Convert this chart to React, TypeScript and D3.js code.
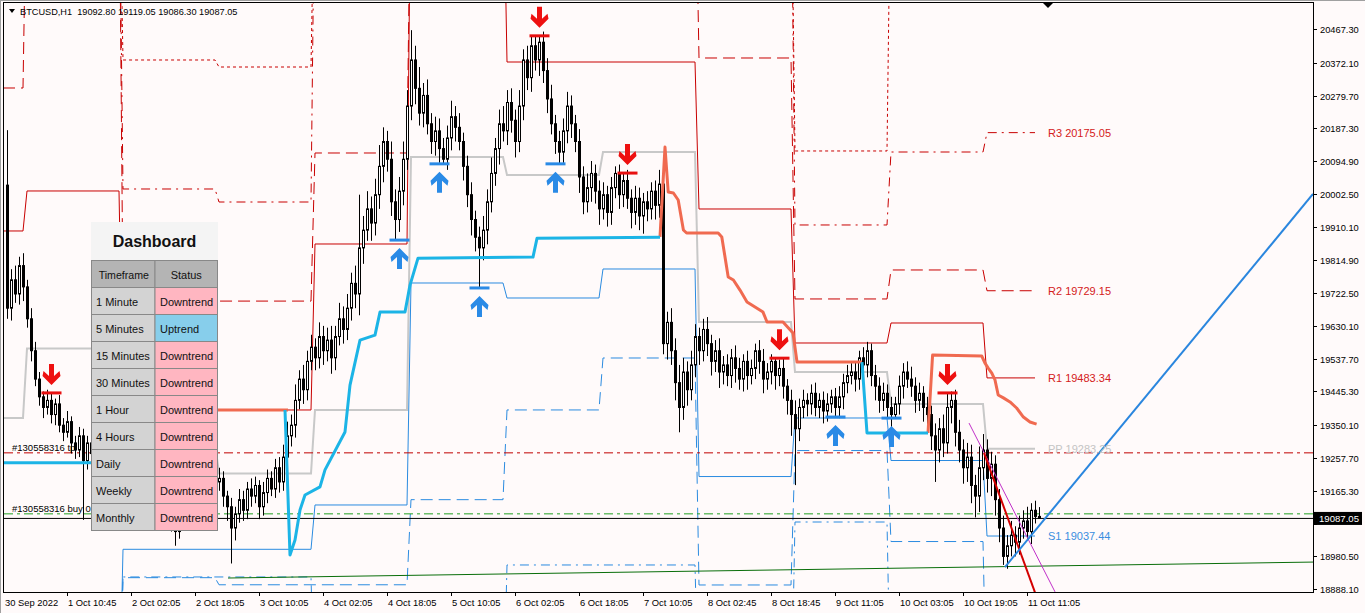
import React from "react";
import * as d3 from "d3";

// ---------------- DATA ----------------
const symbolHeader = "BTCUSD,H1  19092.80 19119.05 19086.30 19087.05";
const firstOpen = 20027;
const closes = [
  19680, 19760, 19720, 19800, 19740, 19650, 19560, 19480, 19430, 19400,
  19420, 19380, 19410, 19350, 19330, 19360, 19300, 19280, 19320, 19250,
  19300, 19270, 19240, 19280, 19250, 19220, 19260, 19230, 19190, 19210,
  19250, 19220, 19180, 19200, 19160, 19190, 19150, 19170, 19130, 19160,
  19120, 19080, 19050, 19100, 19140, 19110, 19150, 19180, 19140, 19170,
  19200, 19160, 19190, 19200, 19150, 19120, 19060, 19100, 19140, 19110,
  19170, 19150, 19180, 19120, 19160, 19200, 19170, 19230, 19190, 19260,
  19320, 19350, 19420, 19480, 19450, 19530, 19570, 19540, 19600, 19560,
  19590, 19540, 19600, 19650, 19620, 19680, 19750, 19720, 19850, 19900,
  19960, 19920, 20000, 20080, 20150, 20100, 19980, 19930, 20010, 20100,
  20250, 20380, 20300, 20230, 20280, 20200, 20150, 20180, 20130, 20100,
  20160, 20220, 20190, 20150, 20080, 20000, 19930, 19880, 19850, 19900,
  19980, 20060, 20130, 20200, 20180, 20260, 20210, 20150, 20250, 20380,
  20330, 20420, 20380, 20430, 20350, 20270, 20200, 20150, 20120, 20180,
  20250, 20200, 20150, 20050, 19980, 20020, 20060, 20010, 19960, 20000,
  19950, 20020, 20060, 20000, 20040, 19990, 19950, 19990, 19940, 19980,
  19960, 20010, 19970, 20030, 19580, 19640, 19560, 19470, 19400, 19500,
  19450, 19520, 19600, 19560, 19620, 19580, 19530, 19560, 19500, 19520,
  19490, 19540, 19510, 19480, 19530, 19490, 19510, 19560, 19530, 19480,
  19500, 19530, 19490, 19510, 19460, 19420, 19380, 19340, 19400, 19420,
  19410, 19440, 19400, 19420, 19390, 19410, 19430, 19400, 19430, 19470,
  19490, 19500, 19480, 19540, 19520, 19560, 19490, 19460, 19420, 19440,
  19400, 19380, 19410, 19460, 19500, 19480, 19460, 19420, 19440, 19400,
  19380, 19320, 19280, 19340, 19300, 19400, 19420, 19330, 19280, 19230,
  19260, 19180, 19150, 19230, 19280, 19200, 19240, 19140, 19060, 18980,
  19010, 19040, 19020, 19060, 19080, 19050, 19110, 19092.8, 19087.05,
];
const wickHi = [
  155, 30, 40, 25, 35, 20, 30, 25, 20, 15,
  30, 20, 15, 25, 20, 30, 15, 20, 25, 20,
  20, 25, 15, 20, 25, 15, 20, 25, 15, 20,
  15, 20, 25, 15, 20, 25, 15, 20, 25, 15,
  20, 15, 25, 20, 15, 25, 20, 15, 25, 20,
  15, 25, 20, 30, 20, 15, 25, 20, 30, 25,
  20, 30, 25, 15, 30, 25, 20, 25, 30, 35,
  40, 30, 45, 25, 40, 30, 35, 25, 40, 30,
  35, 40, 30, 45, 35, 40, 30, 50, 150, 40,
  50, 35, 45, 60, 40, 30, 50, 35, 40, 50,
  45, 84, 40, 60, 35, 45, 30, 40, 35, 30,
  35, 45, 30, 40, 25, 30, 35, 25, 30, 40,
  35, 45, 30, 40, 50, 35, 40, 30, 45, 30,
  40, 25, 28, 15, 30, 35, 40, 25, 30, 35,
  40, 30, 25, 35, 30, 40, 35, 25, 30, 35,
  25, 30, 20, 25, 21, 30, 25, 35, 30, 25,
  30, 25, 30, 40, 50, 30, 40, 35, 50, 40,
  30, 40, 35, 25, 30, 35, 25, 30, 35, 25,
  30, 25, 35, 30, 20, 30, 25, 20, 30, 35,
  25, 20, 9, 25, 30, 20, 30, 40, 25, 30,
  20, 25, 30, 20, 25, 30, 20, 25, 30, 25,
  30, 25, 30, 20, 30, 25, 20, 30, 25, 30,
  25, 30, 20, 30, 25, 30, 35, 25, 30, 20,
  30, 25, 35, 30, 40, 41, 25, 30, 35, 30,
  40, 35, 30, 60, 45, 30, 35, 25, 30, 35,
  30, 40, 25, 35, 30, 40, 20, 27, 26.25,
];
const wickLo = [
  30, 35, 25, 30, 40, 25, 30, 20, 25, 30,
  20, 25, 30, 20, 25, 15, 30, 25, 20, 167,
  25, 20, 30, 25, 20, 30, 25, 20, 30, 25,
  20, 25, 30, 20, 25, 30, 20, 25, 30, 20,
  25, 30, 40, 20, 25, 30, 20, 25, 30, 20,
  25, 30, 20, 25, 30, 40, 100, 35, 25, 30,
  25, 30, 20, 35, 25, 30, 20, 25, 30, 25,
  40, 30, 35, 25, 40, 30, 25, 35, 30, 40,
  30, 45, 35, 25, 40, 30, 35, 40, 60, 45,
  30, 50, 35, 40, 45, 35, 40, 58, 35, 40,
  30, 40, 45, 35, 40, 30, 35, 40, 40, 13,
  30, 35, 40, 25, 40, 35, 45, 40, 113, 35,
  40, 30, 35, 45, 30, 40, 35, 45, 30, 40,
  35, 40, 30, 45, 35, 40, 30, 35, 33, 30,
  35, 40, 30, 45, 35, 30, 40, 35, 45, 30,
  40, 35, 30, 40, 35, 30, 45, 35, 40, 50,
  35, 30, 40, 35, 30, 45, 40, 50, 70, 35,
  45, 30, 35, 40, 30, 35, 40, 30, 45, 35,
  30, 35, 40, 30, 35, 40, 25, 30, 35, 40,
  30, 35, 40, 30, 35, 40, 60, 159, 35, 30,
  35, 30, 25, 30, 35, 30, 25, 27, 30, 35,
  30, 25, 35, 30, 25, 35, 30, 40, 35, 30,
  30, 35, 10, 30, 35, 25, 30, 35, 30, 40,
  35, 40, 90, 35, 40, 30, 45, 40, 35, 45,
  40, 50, 60, 45, 35, 40, 50, 45, 40, 24,
  35, 30, 40, 35, 30, 25, 35, 20, 0.75,
];

const priceTicks = [20467.3, 20372.1, 20279.7, 20187.3, 20094.9, 20002.5, 19910.1, 19814.9, 19722.5,
  19630.1, 19537.7, 19445.3, 19350.1, 19257.7, 19165.3, 19072.5, 18980.5, 18888.1];
const timeLabels = ["30 Sep 2022", "1 Oct 10:45", "2 Oct 02:05", "2 Oct 18:05", "3 Oct 10:05", "4 Oct 02:05",
  "4 Oct 18:05", "5 Oct 10:05", "6 Oct 02:05", "6 Oct 18:05", "7 Oct 10:05", "8 Oct 02:45", "8 Oct 18:45",
  "9 Oct 11:05", "10 Oct 03:05", "10 Oct 19:05", "11 Oct 11:05"];

// daily pivot levels (12 sessions); null = not shown, 21000 / 18500 = off chart
const pivR4 = [null, 21000, 20379.9, 20360.1, 21000, 21000, 21000, 21000, 21000, 20123.3, 21000, 21000];
const pivR3 = [21000, 21000, 20016.1, 19979.4, 21000, 21000, 21000, 21000, 21000, 19914.6, 20120.4, 20175.05];
const pivR2 = [20300.9, 21000, 19700, 19700, 20117.6, 21000, 21000, 21000, 20385.5, 19706, 19787.7, 19729.15];
const pivR1 = [19897.7, 20010.5, 19392.9, 19392.9, 19861, 21000, 20374.2, 20374.2, 19959.7, 19581.8, 19638.2, 19483.34];
const pivPP = [19370.3, 19566.2, 19300, 19213.7, 19392.9, 20106.3, 20055.6, 20120.4, 19641, 19500, 19409.8, 19283.25];
const pivS1 = [18500, 18500, 19000, 19000, 19125, 19751, 19708.7, 19790.5, 19205.2, 19370.3, 19250.4, 19037.44];
const pivS2 = [18500, 18500, 18920, 18900, 18900, 19140, 19393, 19539.5, 18899.4, 19278.5, 19021.9, 18500];
const pivS3 = [18500, 18500, 18922, 18922, 18500, 18500, 18955.8, 18955.8, 18500, 19077, 18500, 18500];
const pivotLabels = [
  { name: "R3", value: 20175.05 },
  { name: "R2", value: 19729.15 },
  { name: "R1", value: 19483.34 },
  { name: "PP", value: 19283.25 },
  { name: "S1", value: 19037.44 },
];

// trailing stop (bar index, price)
const trailUp = [
  [[-1, 19244], [21, 19244]],
  [[69.5, 19393], [70.75, 18984], [72, 19026], [73.25, 19111], [74.5, 19153], [78.25, 19176], [79.5, 19224],
   [84.5, 19331], [85.75, 19463], [88.25, 19590], [92, 19604], [93.25, 19669], [99.5, 19669], [100.75, 19745],
   [102.75, 19821], [131.5, 19824], [132.5, 19877], [163.25, 19880]],
  [[213.75, 19528], [215, 19328], [230.25, 19328]],
];
const trailDown = [
  [[52.75, 19393], [70.25, 19393]],
  [[163.25, 19881], [164.5, 20134.5], [165.3, 20007.6], [166.6, 20004.8], [167.8, 19985], [169.1, 19900.5],
   [169.9, 19892], [177.8, 19892], [178.7, 19881], [180.3, 19768], [181.6, 19759.5], [183.25, 19731],
   [185, 19697.4], [189, 19669], [190, 19641], [194, 19641], [196.5, 19610], [197.5, 19528.2], [213.75, 19528.2]],
  [[230.25, 19328], [231.4, 19548], [243.7, 19545], [244.5, 19525], [245.3, 19511], [246.2, 19497], [247, 19477.5],
   [247.8, 19435], [249.1, 19427], [250.75, 19415.5], [252.4, 19398.5], [254.1, 19373], [255.75, 19359], [257.4, 19353]],
];
// fractal arrows (bar index, price)
const fractalHighIdx = [11, 133, 155, 193, 235];
const fractalHighPrice = [19441, 20448, 20061, 19539, 19441];
const fractalLowIdx = [98, 108, 118, 137, 207, 221];
const fractalLowPrice = [19872, 20087, 19737, 20087, 19373, 19370];

// drawn trend lines (bar index, price)
const greenTrend = [[55.25, 18919], [326.5, 18964]];
const blueTrend = [[249.5, 18950], [326.5, 20002]];
const redTrend = [[244.25, 19272], [262, 18724]];
const magentaTrend = [[240.5, 19356], [262, 18880]];

// order lines
const bidPrice = 19087.05;
const buyPrice = 19100;
const tpPrice = 19272;
const orderTicket = "#130558316";

// dashboard
const dashTimeframes = ["1 Minute", "5 Minutes", "15 Minutes", "30 Minutes", "1 Hour", "4 Hours", "Daily", "Weekly", "Monthly"];
const dashStatus = ["Downtrend", "Uptrend", "Downtrend", "Downtrend", "Downtrend", "Downtrend", "Downtrend", "Downtrend", "Downtrend"];

// ---------------- LAYOUT ----------------
const W = 1365, H = 613;
const PL = 4, PT = 3, PR = 1313, PB = 592;
const FONT = "'Liberation Sans', Arial, sans-serif";

const x = d3.scaleLinear().domain([0, 326.5]).range([7, 1313]);
const y = d3.scaleLinear().domain([18879.6, 20540.6]).range([PB, PT]);

function dayOf(i: number) {
  return i < 5 ? 0 : Math.floor((i - 5) / 24) + 1;
}

function levelPath(vals: (number | null)[]) {
  const pts: [number, number | null][] = [];
  for (let i = -1; i <= 257; i++) pts.push([i, vals[Math.max(0, dayOf(i))]]);
  return d3.line<[number, number | null]>()
    .defined((d) => d[1] !== null)
    .x((d) => x(d[0]))
    .y((d) => y(d[1] as number))(pts) || "";
}

const lineGen = d3.line<number[]>().x((d) => x(d[0])).y((d) => y(d[1]));

function arrowDown(cx: number, ty: number) {
  return `M${cx - 2.5},${ty} L${cx + 2.5},${ty} L${cx + 2.5},${ty + 12} L${cx + 8},${ty + 7} L${cx + 9},${ty + 12} L${cx},${ty + 21} L${cx - 9},${ty + 12} L${cx - 8},${ty + 7} L${cx - 2.5},${ty + 12} Z`;
}
function arrowUp(cx: number, by: number) {
  return `M${cx - 2.5},${by} L${cx + 2.5},${by} L${cx + 2.5},${by - 12} L${cx + 8},${by - 7} L${cx + 9},${by - 12} L${cx},${by - 21} L${cx - 9},${by - 12} L${cx - 8},${by - 7} L${cx - 2.5},${by - 12} Z`;
}

export default function App() {
  const candles = closes.map((c, i) => {
    const o = i === 0 ? firstOpen : closes[i - 1];
    const hi = Math.max(o, c) + wickHi[i];
    const lo = Math.min(o, c) - wickLo[i];
    const cx = Math.round(x(i));
    const yTop = y(Math.max(o, c));
    const yBot = y(Math.min(o, c));
    const bull = c >= o;
    return (
      <g key={i}>
        <line x1={cx + 0.5} x2={cx + 0.5} y1={y(hi)} y2={y(lo)} stroke="#000" strokeWidth={1} />
        <rect x={cx - 0.5} y={yTop} width={2} height={Math.max(yBot - yTop, 0.8)}
          fill={bull ? "#fff" : "#000"} stroke="#000" strokeWidth={1} />
      </g>
    );
  });

  const red = "#c80000";
  const blue = "#2b8be0";

  const dashX0 = 91, dashX1 = 218, dashMid = 154.5, rowH = 27, tableTop = 260.5;
  const bidY = y(bidPrice);

  return (
    <svg width={W} height={H} style={{ position: "fixed", left: 0, top: 0, background: "#fffafa" }}
      xmlns="http://www.w3.org/2000/svg">
      <defs>
        <clipPath id="plot"><rect x={PL} y={PT} width={PR - PL} height={PB - PT} /></clipPath>
      </defs>
      <rect x={0} y={0} width={W} height={H} fill="#fffafa" />
      <g clipPath="url(#plot)">
        {/* pivot levels */}
        <path d={levelPath(pivR4)} fill="none" stroke={red} strokeWidth={1} strokeDasharray="3,3" />
        <path d={levelPath(pivR3)} fill="none" stroke={red} strokeWidth={1} strokeDasharray="9,5,2,5" />
        <path d={levelPath(pivR2)} fill="none" stroke={red} strokeWidth={1} strokeDasharray="12,6" />
        <path d={levelPath(pivR1)} fill="none" stroke={red} strokeWidth={1} />
        <path d={levelPath(pivPP)} fill="none" stroke="#c8c8c8" strokeWidth={2} />
        <path d={levelPath(pivS1)} fill="none" stroke={blue} strokeWidth={1} />
        <path d={levelPath(pivS2)} fill="none" stroke={blue} strokeWidth={1} strokeDasharray="12,6" />
        <path d={levelPath(pivS3)} fill="none" stroke={blue} strokeWidth={1} strokeDasharray="9,5,2,5" />

        {/* order lines */}
        <line x1={PL} x2={PR} y1={y(tpPrice)} y2={y(tpPrice)} stroke="#c00000" strokeDasharray="9,4,3,4" />
        <line x1={PL} x2={PR} y1={y(buyPrice)} y2={y(buyPrice)} stroke="#22a022" strokeDasharray="9,4,3,4" />
        <line x1={PL} x2={PR} y1={bidY} y2={bidY} stroke="#000" strokeWidth={1} />

        {/* trend lines */}
        <path d={lineGen(greenTrend) || ""} stroke="#0a6e0a" strokeWidth={1} fill="none" />

        {candles}

        {/* trailing stops */}
        {trailDown.map((s, k) => (
          <path key={"d" + k} d={lineGen(s) || ""} stroke="#f06a50" strokeWidth={3} fill="none" strokeLinejoin="round" />
        ))}
        {trailUp.map((s, k) => (
          <path key={"u" + k} d={lineGen(s) || ""} stroke="#1cb4e6" strokeWidth={3} fill="none" strokeLinejoin="round" />
        ))}

        <path d={lineGen(magentaTrend) || ""} stroke="#c030c8" strokeWidth={1} fill="none" />
        <path d={lineGen(redTrend) || ""} stroke="#d40000" strokeWidth={2} fill="none" />
        <path d={lineGen(blueTrend) || ""} stroke="#2a86de" strokeWidth={2} fill="none" />

        {/* fractals */}
        {fractalHighIdx.map((fi, k) => {
          const cx = Math.round(x(fi)) + 0.5;
          const yy = y(fractalHighPrice[k]);
          return (
            <g key={"fh" + k}>
              <line x1={cx - 10} x2={cx + 10} y1={yy} y2={yy} stroke="#e81010" strokeWidth={3} />
              <path d={arrowDown(cx, yy - 29)} fill="#ee1010" />
            </g>
          );
        })}
        {fractalLowIdx.map((fi, k) => {
          const cx = Math.round(x(fi)) + 0.5;
          const yy = y(fractalLowPrice[k]);
          return (
            <g key={"fl" + k}>
              <line x1={cx - 10} x2={cx + 10} y1={yy} y2={yy} stroke="#2a8ae6" strokeWidth={3} />
              <path d={arrowUp(cx, yy + 29)} fill="#2a8ae6" />
            </g>
          );
        })}

        {/* pivot labels */}
        {pivotLabels.map((p) => (
          <text key={p.name} x={1048} y={y(p.value) + 4} fontFamily={FONT} fontSize={11}
            fill={p.name === "PP" ? "#c4c4c4" : p.name.startsWith("S") ? "#3a8ee0" : "#d42020"}>
            {p.name} {p.value.toFixed(2)}
          </text>
        ))}

        {/* order labels */}
        <text x={12} y={y(tpPrice) - 2} fontFamily={FONT} fontSize={9.5} fill="#000">{orderTicket} tp</text>
        <text x={12} y={y(buyPrice) - 2} fontFamily={FONT} fontSize={9.5} fill="#000">{orderTicket} buy 0</text>

        {/* header */}
        <path d="M9,9 L15,9 L12,13 Z" fill="#000" />
        <text x={20} y={15} fontFamily={FONT} fontSize={9.2} fill="#000" style={{ whiteSpace: "pre" }}>{symbolHeader}</text>
        <path d="M1043,3 L1053,3 L1048,8 Z" fill="#000" />
      </g>

      {/* dashboard */}
      <g fontFamily={FONT}>
        <rect x={dashX0} y={222} width={dashX1 - dashX0} height={tableTop - 222} fill="#f4f4f4" />
        <text x={(dashX0 + dashX1) / 2} y={247} textAnchor="middle" fontSize={16} fontWeight="bold" fill="#111">Dashboard</text>
        <rect x={dashX0 + 0.5} y={tableTop} width={dashMid - dashX0} height={rowH} fill="#b4b4b4" stroke="#888" />
        <rect x={dashMid + 0.5} y={tableTop} width={dashX1 - dashMid - 1} height={rowH} fill="#b4b4b4" stroke="#888" />
        <text x={(dashX0 + dashMid) / 2 + 1} y={tableTop + 18} textAnchor="middle" fontSize={10.6} fill="#111">Timeframe</text>
        <text x={(dashMid + dashX1) / 2} y={tableTop + 18} textAnchor="middle" fontSize={11} fill="#111">Status</text>
        {dashTimeframes.map((tf, k) => {
          const ry = tableTop + rowH * (k + 1);
          const st = dashStatus[k];
          return (
            <g key={tf}>
              <rect x={dashX0 + 0.5} y={ry} width={dashMid - dashX0} height={rowH} fill="#d3d3d3" stroke="#888" />
              <rect x={dashMid + 0.5} y={ry} width={dashX1 - dashMid - 1} height={rowH} fill={st === "Uptrend" ? "#87ceeb" : "#ffb6c1"} stroke="#888" />
              <text x={96} y={ry + 18} fontSize={11} fill="#111">{tf}</text>
              <text x={160} y={ry + 18} fontSize={11} fill="#111">{st}</text>
            </g>
          );
        })}
      </g>

      {/* frame */}
      <rect x={PL - 0.5} y={PT - 0.5} width={PR - PL + 1} height={PB - PT + 1} fill="none" stroke="#000" strokeWidth={1} />
      <line x1={0.5} x2={0.5} y1={0} y2={H} stroke="#a0a0a0" />
      <line x1={0} x2={W} y1={0.5} y2={0.5} stroke="#a0a0a0" />

      {/* price axis */}
      {priceTicks.map((p) => (
        <g key={p}>
          <line x1={PR} x2={PR + 4} y1={Math.round(y(p)) + 0.5} y2={Math.round(y(p)) + 0.5} stroke="#000" />
          {Math.abs(y(p) - bidY) > 9 && (
            <text x={1320} y={y(p) + 4} fontFamily={FONT} fontSize={9.3} fill="#000">{p.toFixed(2)}</text>
          )}
        </g>
      ))}
      <rect x={PR + 1} y={bidY - 6.5} width={W - PR - 4} height={13} fill="#000" />
      <text x={1319} y={bidY + 4} fontFamily={FONT} fontSize={9.6} fill="#fff">{bidPrice.toFixed(2)}</text>

      {/* time axis */}
      {timeLabels.map((t, k) => {
        const tx = Math.round(x(16 * k - 1));
        return (
          <g key={t}>
            {k > 0 && <line x1={tx + 0.5} x2={tx + 0.5} y1={PB} y2={PB + 4} stroke="#000" />}
            <text x={Math.max(tx + 1, 5)} y={606} fontFamily={FONT} fontSize={9.4} fill="#000">{t}</text>
          </g>
        );
      })}
    </svg>
  );
}
